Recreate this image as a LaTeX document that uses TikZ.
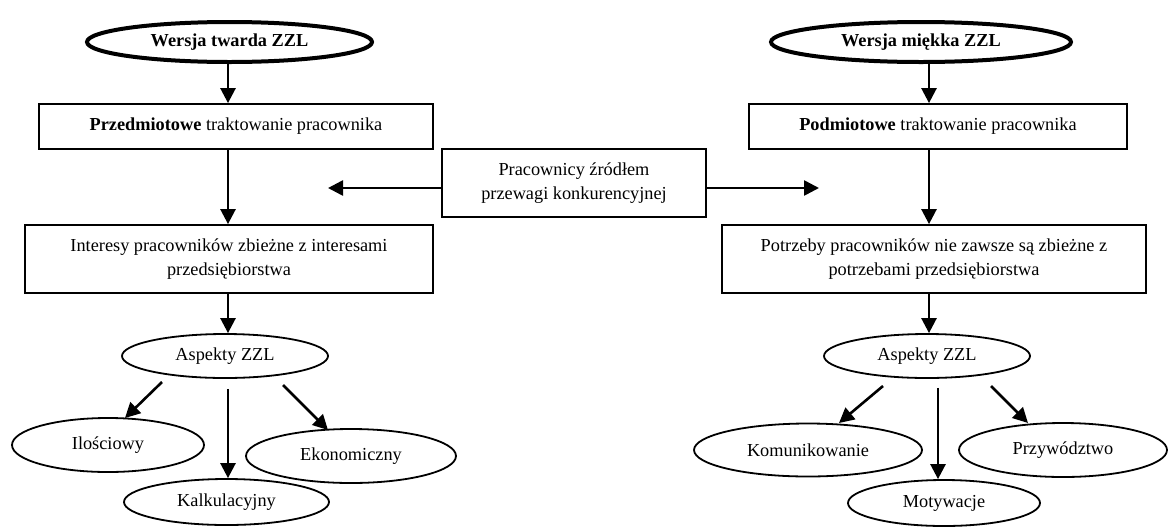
\documentclass[tikz,border=0pt]{standalone}
\usepackage{fontspec}
\setmainfont{Liberation Serif}
\usetikzlibrary{arrows.meta,calc,shapes.geometric}
\begin{document}
\begin{tikzpicture}[x=1pt,y=-1pt,
  every node/.style={font=\fontsize{18.3}{24}\selectfont, align=center, inner sep=0pt},
  boxnode/.style={draw, rectangle, line width=1.8pt},
  headoval/.style={draw, ellipse, line width=4pt},
  oval/.style={draw, ellipse, line width=1.8pt},
  arr/.style={line width=2.6pt, -{Triangle[length=15pt,width=15pt]}}
]
\useasboundingbox (0,0) rectangle (1169,528);

% column guides for the vertical connectors
\coordinate (colL) at (228,0);
\coordinate (colR) at (929,0);
\coordinate (colM) at (938,0);
\coordinate (tipL) at (328,188);
\coordinate (tipR) at (819,188);

% hard version (left)
\node[headoval, minimum width=285pt, minimum height=40pt] (hardL) at (229.5,42) {\textbf{Wersja twarda ZZL}};
\node[boxnode, minimum width=394pt, minimum height=45pt] (boxL1) at (236,126.5) {\textbf{Przedmiotowe} traktowanie pracownika};
\node[boxnode, minimum width=408pt, minimum height=68pt] (boxL2) at (229,259) {Interesy pracowników zbieżne z interesami\\przedsiębiorstwa};
\node[oval, minimum width=206pt, minimum height=44pt] (aspL) at (225,356) {Aspekty ZZL};
\node[oval, minimum width=192pt, minimum height=54pt] (ilo) at (108,445) {Ilościowy};
\node[oval, minimum width=205pt, minimum height=46pt] (kal) at (226.5,502) {Kalkulacyjny};
\node[oval, minimum width=210pt, minimum height=54pt] (eko) at (351,456) {Ekonomiczny};

% soft version (right)
\node[headoval, minimum width=300pt, minimum height=40pt] (softR) at (921,42) {\textbf{Wersja miękka ZZL}};
\node[boxnode, minimum width=378pt, minimum height=45pt] (boxR1) at (938,126.5) {\textbf{Podmiotowe} traktowanie pracownika};
\node[boxnode, minimum width=424pt, minimum height=68pt] (boxR2) at (934,259) {Potrzeby pracowników nie zawsze są zbieżne z\\potrzebami przedsiębiorstwa};
\node[oval, minimum width=206pt, minimum height=44pt] (aspR) at (927,356) {Aspekty ZZL};
\node[oval, minimum width=228pt, minimum height=53pt] (kom) at (808,450) {Komunikowanie};
\node[oval, minimum width=192pt, minimum height=46pt] (mot) at (944,503) {Motywacje};
\node[oval, minimum width=208pt, minimum height=54pt] (prz) at (1063,450) {Przywództwo};

% shared middle box
\node[boxnode, minimum width=264pt, minimum height=68pt] (mid) at (574,183) {Pracownicy źródłem\\przewagi konkurencyjnej};

% connectors, left column
\draw[arr] (hardL.south -| colL) -- (boxL1.north -| colL);
\draw[arr] (boxL1.south -| colL) -- (boxL2.north -| colL);
\draw[arr] (boxL2.south -| colL) -- (aspL.north -| colL);
\draw[arr] ($(aspL)+(-63,26)$) -- ($(ilo)+(17,-27)$);
\draw[arr] ($(aspL.south -| colL)+(0,10)$) -- (kal.north -| colL);
\draw[arr] ($(aspL)+(58,29)$) -- ($(eko)+(-23,-26)$);

% connectors, right column
\draw[arr] (softR.south -| colR) -- (boxR1.north -| colR);
\draw[arr] (boxR1.south -| colR) -- (boxR2.north -| colR);
\draw[arr] (boxR2.south -| colR) -- (aspR.north -| colR);
\draw[arr] ($(aspR)+(-44,30)$) -- ($(kom)+(31,-27)$);
\draw[arr] ($(aspR.south -| colM)+(0,9)$) -- (mot.north -| colM);
\draw[arr] ($(aspR)+(64,30)$) -- ($(prz)+(-35,-27)$);

% connectors from the middle box
\draw[arr] (mid.west |- tipL) -- (tipL);
\draw[arr] (mid.east |- tipR) -- (tipR);
\end{tikzpicture}
\end{document}
